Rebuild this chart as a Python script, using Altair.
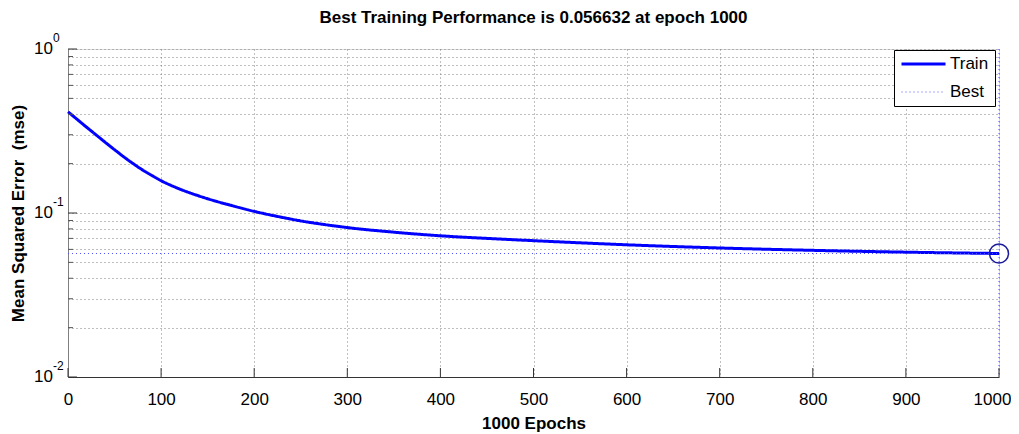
import altair as alt
import pandas as pd

# ---- data ----
epochs = [0, 10, 20, 30, 40, 50, 60, 70, 80, 90, 100, 110, 120, 140, 160,
          180, 200, 225, 250, 275, 300, 350, 400, 450, 500, 550, 600, 700,
          800, 900, 1000]
mse = [0.4140, 0.3715, 0.3334, 0.2999, 0.2698, 0.2432, 0.2198, 0.2000,
       0.1832, 0.1694, 0.1574, 0.1479, 0.1400, 0.1274, 0.1175, 0.1094,
       0.1023, 0.0953, 0.0895, 0.0851, 0.0815, 0.0764, 0.0726, 0.0700,
       0.0678, 0.0658, 0.0640, 0.0612, 0.0592, 0.0577, 0.056632]
best_epoch = 1000
best_value = 0.056632
series_names = ["Train", "Best"]
x_ticks = [0, 100, 200, 300, 400, 500, 600, 700, 800, 900, 1000]
y_minor = [0.02, 0.03, 0.04, 0.05, 0.06, 0.07, 0.08, 0.09,
           0.2, 0.3, 0.4, 0.5, 0.6, 0.7, 0.8, 0.9]
y_decades = [0.01, 0.1, 1.0]
y_exps = ["-2", "-1", "0"]
title_text = ["Best Training Performance is 0.056632 at epoch 1000"]

W, H = 931, 328
FONT = "Liberation Sans"
GRID = dict(grid=True, gridColor="#808080", gridDash=[1, 3], gridWidth=1,
            gridOpacity=1)

lines_df = pd.DataFrame(
    {"epoch": epochs + [0, best_epoch],
     "mse": mse + [best_value, best_value],
     "series": ["Train"] * len(epochs) + ["Best", "Best"],
     "order": list(range(len(epochs))) + [0, 1]}
)
best_df = pd.DataFrame({"epoch": [best_epoch], "mse": [best_value]})
xt_df = pd.DataFrame({"epoch": x_ticks})
ymin_df = pd.DataFrame({"v": y_minor})
ydec_df = pd.DataFrame({"v": y_decades, "exp": y_exps, "base": ["10"] * 3})
title_df = pd.DataFrame({"t": title_text})

xscale = alt.Scale(domain=[0, 1000], nice=False, zero=False)
yscale = alt.Scale(type="log", domain=[0.01, 1], nice=False)

grid_vals = sorted(y_minor + y_decades)

leg = alt.Legend(
    title=None, orient="none", legendX=826, legendY=1,
    fillColor="white", strokeColor="black", padding=6,
    symbolType="stroke", symbolSize=1936, clipHeight=16,
    labelFont=FONT, labelFontSize=17, labelColor="black", labelOffset=3,
    rowPadding=11, symbolOpacity=1, cornerRadius=0, labelBaseline="middle",
)

lines = alt.Chart(lines_df).mark_line(interpolate="monotone").encode(
    x=alt.X("epoch:Q", scale=xscale,
            axis=alt.Axis(values=x_ticks, format="d", ticks=False, tickSize=0,
                          title="1000 Epochs", labelPadding=14,
                          labelOffset={"condition": {"test": "datum.value == 1000",
                                                     "value": -7},
                                       "value": 0},
                          labelFontSize=17, labelFont=FONT, labelColor="black",
                          titleFont=FONT, titleFontSize=17, titleFontWeight="bold",
                          titleY=46, titleBaseline="middle", titleColor="black",
                          domainColor="#333333", labelFlush=False, **GRID)),
    y=alt.Y("mse:Q", scale=yscale,
            axis=alt.Axis(values=grid_vals, labels=False, ticks=False,
                          tickSize=0, title="Mean Squared Error \u00a0(mse)",
                          titleFont=FONT, titleFontSize=17, titleFontWeight="bold",
                          titleColor="black", titleAngle=270, titleX=-50,
                          titleY=H / 2, titleAlign="center",
                          titleBaseline="middle", domainColor="#808080", **GRID)),
    color=alt.Color("series:N", scale=alt.Scale(domain=series_names,
                                                range=["#0000ff", "#5050ff"]),
                    legend=leg),
    strokeDash=alt.StrokeDash("series:N", scale=alt.Scale(domain=series_names,
                                                          range=[[1, 0], [1, 3]]),
                              legend=leg),
    strokeWidth=alt.StrokeWidth("series:N", scale=alt.Scale(domain=series_names,
                                                            range=[3, 1]),
                                legend=leg),
    order=alt.Order("order:Q"),
)

vline = alt.Chart(best_df).mark_rule(color="#5050ff", strokeDash=[1, 3],
                                      strokeWidth=1).encode(
    x=alt.X("epoch:Q", scale=xscale),
    y=alt.value(0), y2=alt.value(H),
)

circle = alt.Chart(best_df).mark_point(shape="circle", size=360, filled=False,
                                        color="#1a1a9a", strokeWidth=1.5,
                                        opacity=1).encode(
    x=alt.X("epoch:Q", scale=xscale),
    y=alt.Y("mse:Q", scale=yscale),
)

xticks = alt.Chart(xt_df).mark_rule(color="#333333", strokeWidth=1).encode(
    x=alt.X("epoch:Q", scale=xscale),
    y=alt.value(H), y2=alt.value(H - 9),
)

yminor = alt.Chart(ymin_df).mark_rule(color="#555555", strokeWidth=1).encode(
    y=alt.Y("v:Q", scale=yscale),
    x=alt.value(0), x2=alt.value(5),
)
ymajor = alt.Chart(ydec_df).mark_rule(color="#333333", strokeWidth=1).encode(
    y=alt.Y("v:Q", scale=yscale),
    x=alt.value(0), x2=alt.value(9),
)

ybase = alt.Chart(ydec_df).mark_text(align="right", baseline="middle",
                                      font=FONT, fontSize=17,
                                      color="black").encode(
    y=alt.Y("v:Q", scale=yscale), x=alt.value(-15), text="base:N",
)
yexp = alt.Chart(ydec_df).mark_text(align="left", baseline="middle",
                                     font=FONT, fontSize=12, dy=-11,
                                     color="black").encode(
    y=alt.Y("v:Q", scale=yscale), x=alt.value(-15), text="exp:N",
)

title = alt.Chart(title_df).mark_text(align="center", baseline="middle",
                                       font=FONT, fontSize=17, fontWeight="bold",
                                       color="black").encode(
    x=alt.value(W / 2), y=alt.value(-31), text="t:N",
)

chart = alt.layer(vline, lines, circle, xticks, yminor, ymajor, ybase, yexp,
                  title).properties(
    width=W, height=H,
    autosize=alt.AutoSizeParams(type="none"),
    padding={"left": 60, "top": 41, "right": 12, "bottom": 57},
).configure_view(stroke=None).configure(background="white")

chart.save("out.html", embed_options={"renderer": "svg", "actions": False})
